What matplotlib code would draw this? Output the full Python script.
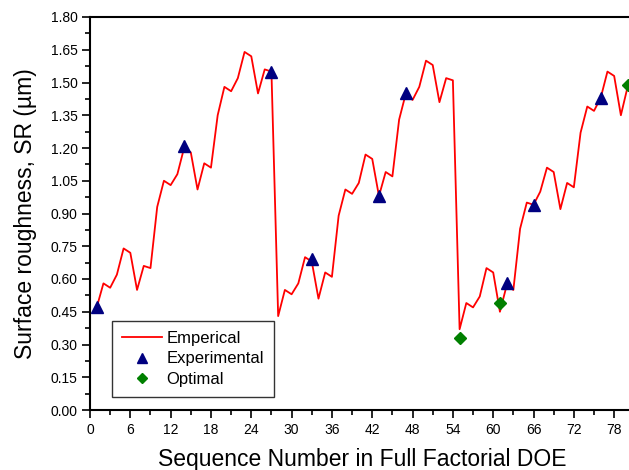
import matplotlib
matplotlib.use("Agg")
import matplotlib.pyplot as plt
from matplotlib.ticker import MultipleLocator, FormatStrFormatter

plt.rcParams['font.family'] = ['Liberation Sans', 'DejaVu Sans']

seq = list(range(1, 81))
emperical = [0.47, 0.58, 0.56, 0.62, 0.74, 0.72, 0.55, 0.66, 0.65,
             0.93, 1.05, 1.03, 1.08, 1.20, 1.18, 1.01, 1.13, 1.11,
             1.35, 1.48, 1.46, 1.52, 1.64, 1.62, 1.45, 1.56, 1.55,
             0.43, 0.55, 0.53, 0.58, 0.70, 0.68, 0.51, 0.63, 0.61,
             0.89, 1.01, 0.99, 1.04, 1.17, 1.15, 0.98, 1.09, 1.07,
             1.33, 1.45, 1.42, 1.48, 1.60, 1.58, 1.41, 1.52, 1.51,
             0.37, 0.49, 0.47, 0.52, 0.65, 0.63, 0.45, 0.57, 0.55,
             0.83, 0.95, 0.94, 1.00, 1.11, 1.09, 0.92, 1.04, 1.02,
             1.27, 1.39, 1.37, 1.43, 1.55, 1.53, 1.35, 1.48]

exp_x = [1, 14, 27, 33, 43, 47, 62, 66, 76]
exp_y = [0.47, 1.21, 1.55, 0.69, 0.98, 1.45, 0.58, 0.94, 1.43]

opt_x = [55, 61, 80]
opt_y = [0.33, 0.49, 1.49]

fig = plt.figure(figsize=(6.29, 4.70), dpi=100)
ax = fig.add_axes([90/629, 60/470, 81*6.72/629, 393/470])

ax.plot(seq, emperical, color='#ff0000', lw=1.3, label='Emperical', zorder=2)
ax.plot(exp_x, exp_y, ls='none', marker='^', color='#000080', ms=8.5, label='Experimental', zorder=3)
ax.plot(opt_x, opt_y, ls='none', marker='D', color='#008000', ms=6.5, label='Optimal', zorder=3)

ax.set_xlim(0, 81)
ax.set_ylim(0, 1.80)
ax.xaxis.set_major_locator(MultipleLocator(6))
ax.xaxis.set_minor_locator(MultipleLocator(3))
ax.yaxis.set_major_locator(MultipleLocator(0.15))
ax.yaxis.set_minor_locator(MultipleLocator(0.075))
ax.yaxis.set_major_formatter(FormatStrFormatter('%.2f'))
ax.tick_params(which='major', direction='out', length=6, width=1.2, labelsize=10, pad=3)
ax.tick_params(which='minor', direction='out', length=3.5, width=1.2)
for s in ax.spines.values():
    s.set_linewidth(1.5)

ax.set_xlabel('Sequence Number in Full Factorial DOE', fontsize=16.5, labelpad=8)
ax.set_ylabel('Surface roughness, SR (\u00b5m)', fontsize=16.5, labelpad=10)

leg = ax.legend(loc='upper left', bbox_to_anchor=(111.7/629, 1 - 321/470),
                bbox_transform=fig.transFigure, borderaxespad=0, fontsize=12,
                frameon=True, fancybox=False, edgecolor='#333333', framealpha=1,
                handlelength=2.4, handletextpad=0.3, borderpad=0.6, labelspacing=0.33,
                markerscale=0.85)
leg.get_frame().set_linewidth(1.0)

fig.savefig('out.png', dpi=100)
